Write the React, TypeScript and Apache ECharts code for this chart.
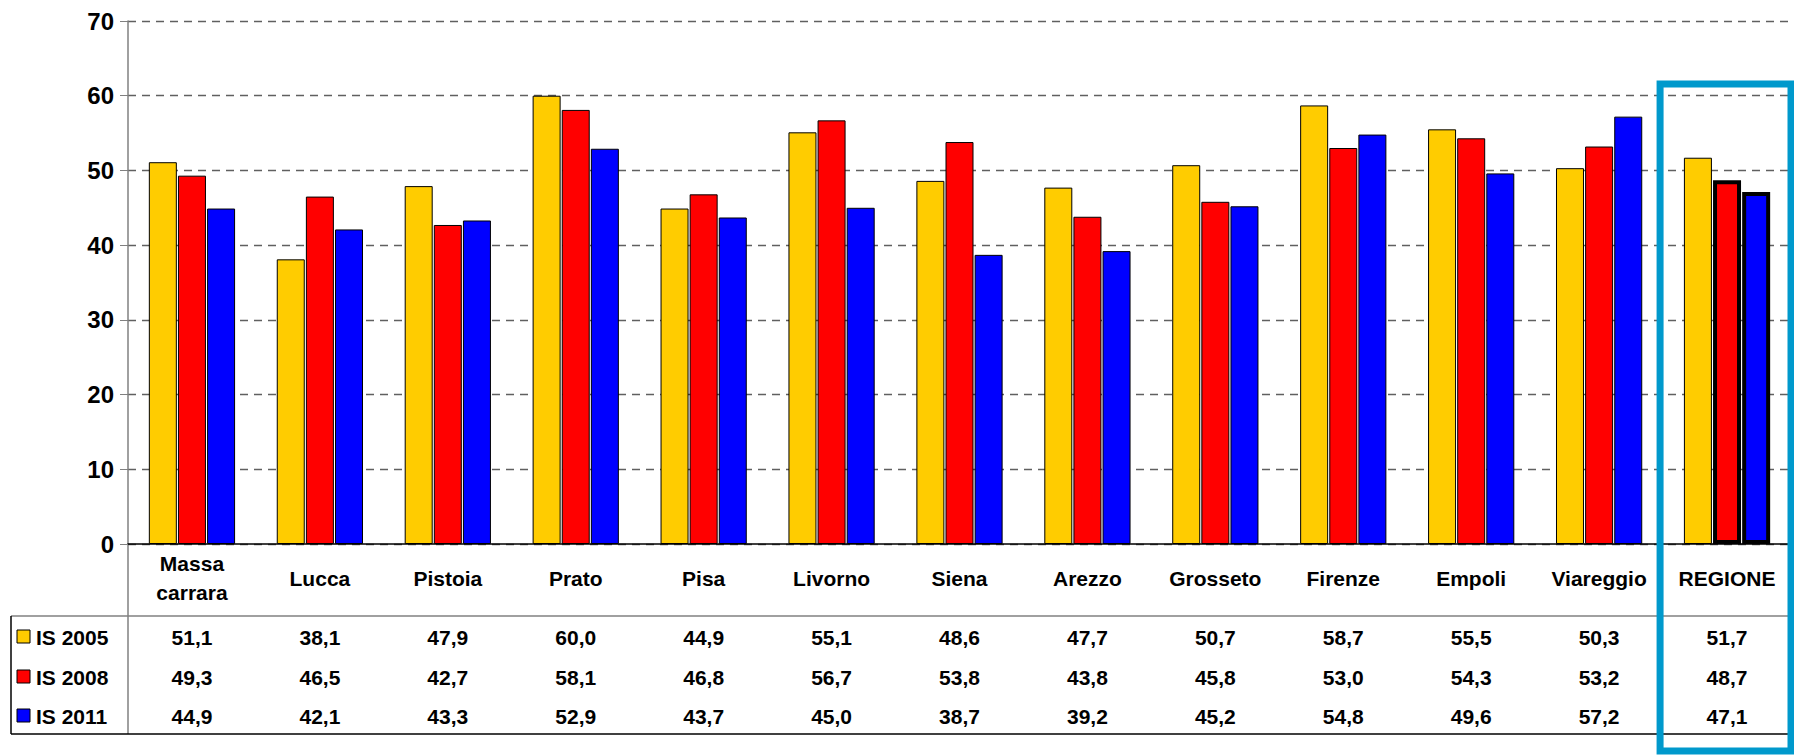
import { useEffect, useRef } from "react";
import * as echarts from "echarts";

const categories = ["Massa\ncarrara", "Lucca", "Pistoia", "Prato", "Pisa", "Livorno", "Siena", "Arezzo", "Grosseto", "Firenze", "Empoli", "Viareggio", "REGIONE"];
const seriesNames = ["IS 2005", "IS 2008", "IS 2011"];
const is2005 = [51.1, 38.1, 47.9, 60.0, 44.9, 55.1, 48.6, 47.7, 50.7, 58.7, 55.5, 50.3, 51.7];
const is2008 = [49.3, 46.5, 42.7, 58.1, 46.8, 56.7, 53.8, 43.8, 45.8, 53.0, 54.3, 53.2, 48.7];
const is2011 = [44.9, 42.1, 43.3, 52.9, 43.7, 45.0, 38.7, 39.2, 45.2, 54.8, 49.6, 57.2, 47.1];
const colors = ["#ffcc00", "#ff0000", "#0000ff"];

const W = 1794, H = 756;
const LEFT = 128, RIGHT = 1791, TOP = 21, AXIS_Y = 544;
const ROW_Y = [637, 677, 716];
const FONT = "Liberation Sans, Arial, sans-serif";

export default function App() {
  const ref = useRef<HTMLDivElement>(null);

  useEffect(() => {
    if (!ref.current) return;
    const chart = echarts.init(ref.current, null, { renderer: "svg" });
    const all = [is2005, is2008, is2011];
    const catW = (RIGHT - LEFT) / categories.length;
    const cx = (i: number) => LEFT + (i + 0.5) * catW;
    const last = categories.length - 1;

    const graphics: any[] = [];
    // category labels row
    categories.forEach((c, i) => {
      graphics.push({
        type: "text", x: cx(i), y: 578,
        style: { text: c, font: `bold 21px ${FONT}`, fill: "#000", align: "center", verticalAlign: "middle", lineHeight: 29 },
      });
    });
    // values rows
    all.forEach((arr, r) => {
      graphics.push({
        type: "rect", shape: { x: 17, y: ROW_Y[r] - 7, width: 13, height: 13 },
        style: { fill: colors[r], stroke: "#000", lineWidth: 1 },
      });
      graphics.push({
        type: "text", x: 36, y: ROW_Y[r],
        style: { text: seriesNames[r], font: `bold 21px ${FONT}`, fill: "#000", verticalAlign: "middle" },
      });
      arr.forEach((v, i) => {
        graphics.push({
          type: "text", x: cx(i), y: ROW_Y[r],
          style: { text: v.toFixed(1).replace(".", ","), font: `bold 21px ${FONT}`, fill: "#000", align: "center", verticalAlign: "middle" },
        });
      });
    });
    // table lines
    graphics.push(
      { type: "line", shape: { x1: LEFT, y1: AXIS_Y, x2: LEFT, y2: 734 }, style: { stroke: "#808080", lineWidth: 1.5 } },
      { type: "line", shape: { x1: 11, y1: 616, x2: RIGHT, y2: 616 }, style: { stroke: "#808080", lineWidth: 1.5 } },
      { type: "line", shape: { x1: 11, y1: 616, x2: 11, y2: 734 }, style: { stroke: "#000", lineWidth: 1.5 } },
      { type: "line", shape: { x1: 11, y1: 734, x2: RIGHT, y2: 734 }, style: { stroke: "#000", lineWidth: 1.5 } },
      { type: "rect", shape: { x: LEFT + last * catW - 3, y: 84, width: catW + 3, height: 667 }, style: { fill: "none", stroke: "#0099cc", lineWidth: 7 }, z: 100 }
    );

    const option: echarts.EChartsOption = {
      animation: false,
      grid: { left: LEFT, right: W - RIGHT, top: TOP, bottom: H - AXIS_Y },
      xAxis: {
        type: "category", data: categories,
        axisLine: { lineStyle: { color: "#000", width: 1.5 } },
        axisTick: { show: false }, axisLabel: { show: false },
      },
      yAxis: {
        type: "value", min: 0, max: 70, interval: 10,
        axisLine: { show: true, lineStyle: { color: "#808080", width: 1.5 } },
        axisTick: { show: true, length: 8, inside: false, lineStyle: { color: "#808080" } },
        axisLabel: { fontFamily: FONT, fontWeight: "bold", fontSize: 24, color: "#000", margin: 14 },
        splitLine: { lineStyle: { color: "#606060", type: [8, 6], width: 1.3 } },
      },
      series: all.map((arr, s) => ({
        name: seriesNames[s], type: "bar" as const, barWidth: 28, barGap: "4%",
        data: arr.map((v, i) => i === last && s > 0
          ? { value: v, itemStyle: { borderColor: "#000", borderWidth: 4 } }
          : v),
        itemStyle: { color: colors[s], borderColor: "#000", borderWidth: 1 },
      })),
      graphic: graphics,
    };
    chart.setOption(option);
    return () => chart.dispose();
  }, []);

  return <div ref={ref} style={{ position: "absolute", left: 0, top: 0, width: W, height: H, background: "#fff" }} />;
}
